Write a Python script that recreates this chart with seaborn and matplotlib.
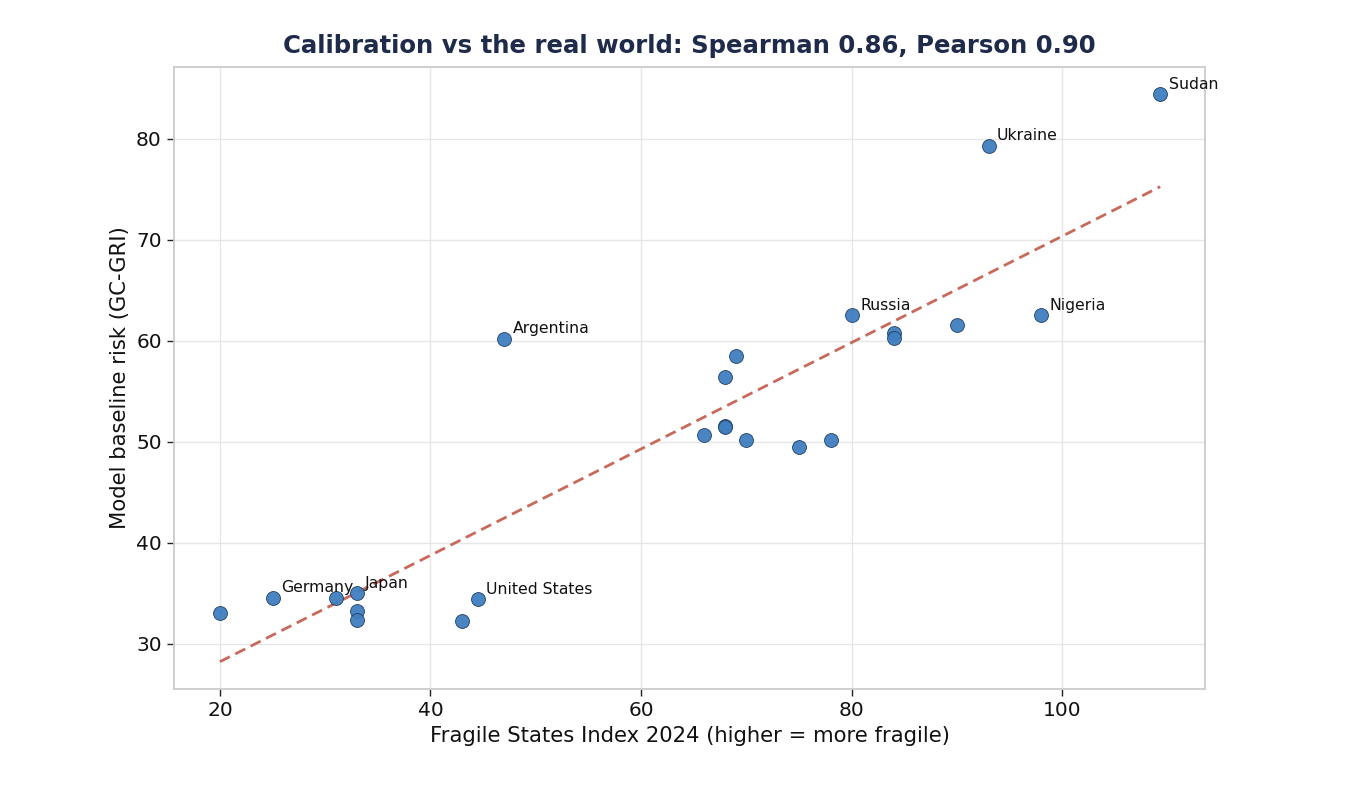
import numpy as np
import pandas as pd
import matplotlib
matplotlib.use("Agg")
import matplotlib.pyplot as plt
import seaborn as sns

# values
countries = ["", "Germany", "", "Japan", "", "", "", "United States", "Argentina",
             "", "", "", "", "", "", "", "", "Russia", "", "", "", "Ukraine", "Nigeria", "Sudan"]
fsi = [20, 25, 31, 33, 33, 33, 43, 44.5, 47,
       66, 68, 68, 68, 69, 70, 75, 78, 80, 84, 84, 90, 93, 98, 109.3]
risk = [33.0, 34.55, 34.5, 35.0, 33.27, 32.4, 32.3, 34.4, 60.2,
        50.7, 51.6, 51.5, 56.4, 58.5, 50.2, 49.5, 50.2, 62.5, 60.8, 60.3, 61.5, 79.3, 62.5, 84.4]

df = pd.DataFrame({"country": countries, "fsi": fsi, "risk": risk})

sns.set_theme(style="whitegrid")
plt.rcParams["font.family"] = ["DejaVu Sans"]

fig, ax = plt.subplots(figsize=(13.56, 7.95), dpi=100)
fig.subplots_adjust(left=0.128, right=0.889, top=0.916, bottom=0.133)

sns.regplot(data=df, x="fsi", y="risk", scatter=False, ci=None, ax=ax,
            line_kws=dict(color="#c9695b", linestyle="--", linewidth=2.0, dashes=(4, 2.2)))
sns.scatterplot(data=df, x="fsi", y="risk", ax=ax, s=100, color="#3f7ebf",
                edgecolor="#1d3a5c", linewidth=0.6, alpha=0.95, zorder=3)

for _, row in df[df["country"] != ""].iterrows():
    ax.annotate(row["country"], (row["fsi"], row["risk"]), xytext=(6, 4),
                textcoords="offset points", fontsize=11.3, color="#111111")

ax.set_xlim(15.6, 113.6)
ax.set_ylim(25.5, 87.1)
ax.set_xticks([20, 40, 60, 80, 100])
ax.set_yticks([30, 40, 50, 60, 70, 80])
ax.tick_params(axis="both", labelsize=14.5, length=5, width=1, color="#222222",
               labelcolor="#111111", bottom=True, left=True)
ax.grid(color="#e6e6e6", linewidth=1)
for sp in ax.spines.values():
    sp.set_color("#cccccc")
    sp.set_linewidth(1.3)

ax.set_xlabel("Fragile States Index 2024 (higher = more fragile)", fontsize=15.2, color="#111111")
ax.set_ylabel("Model baseline risk (GC-GRI)", fontsize=15.2, color="#111111")
ax.set_title("Calibration vs the real world: Spearman 0.86, Pearson 0.90",
             fontsize=17.6, fontweight="bold", color="#1e2b4a", pad=10)

fig.savefig("out.png", dpi=100)
